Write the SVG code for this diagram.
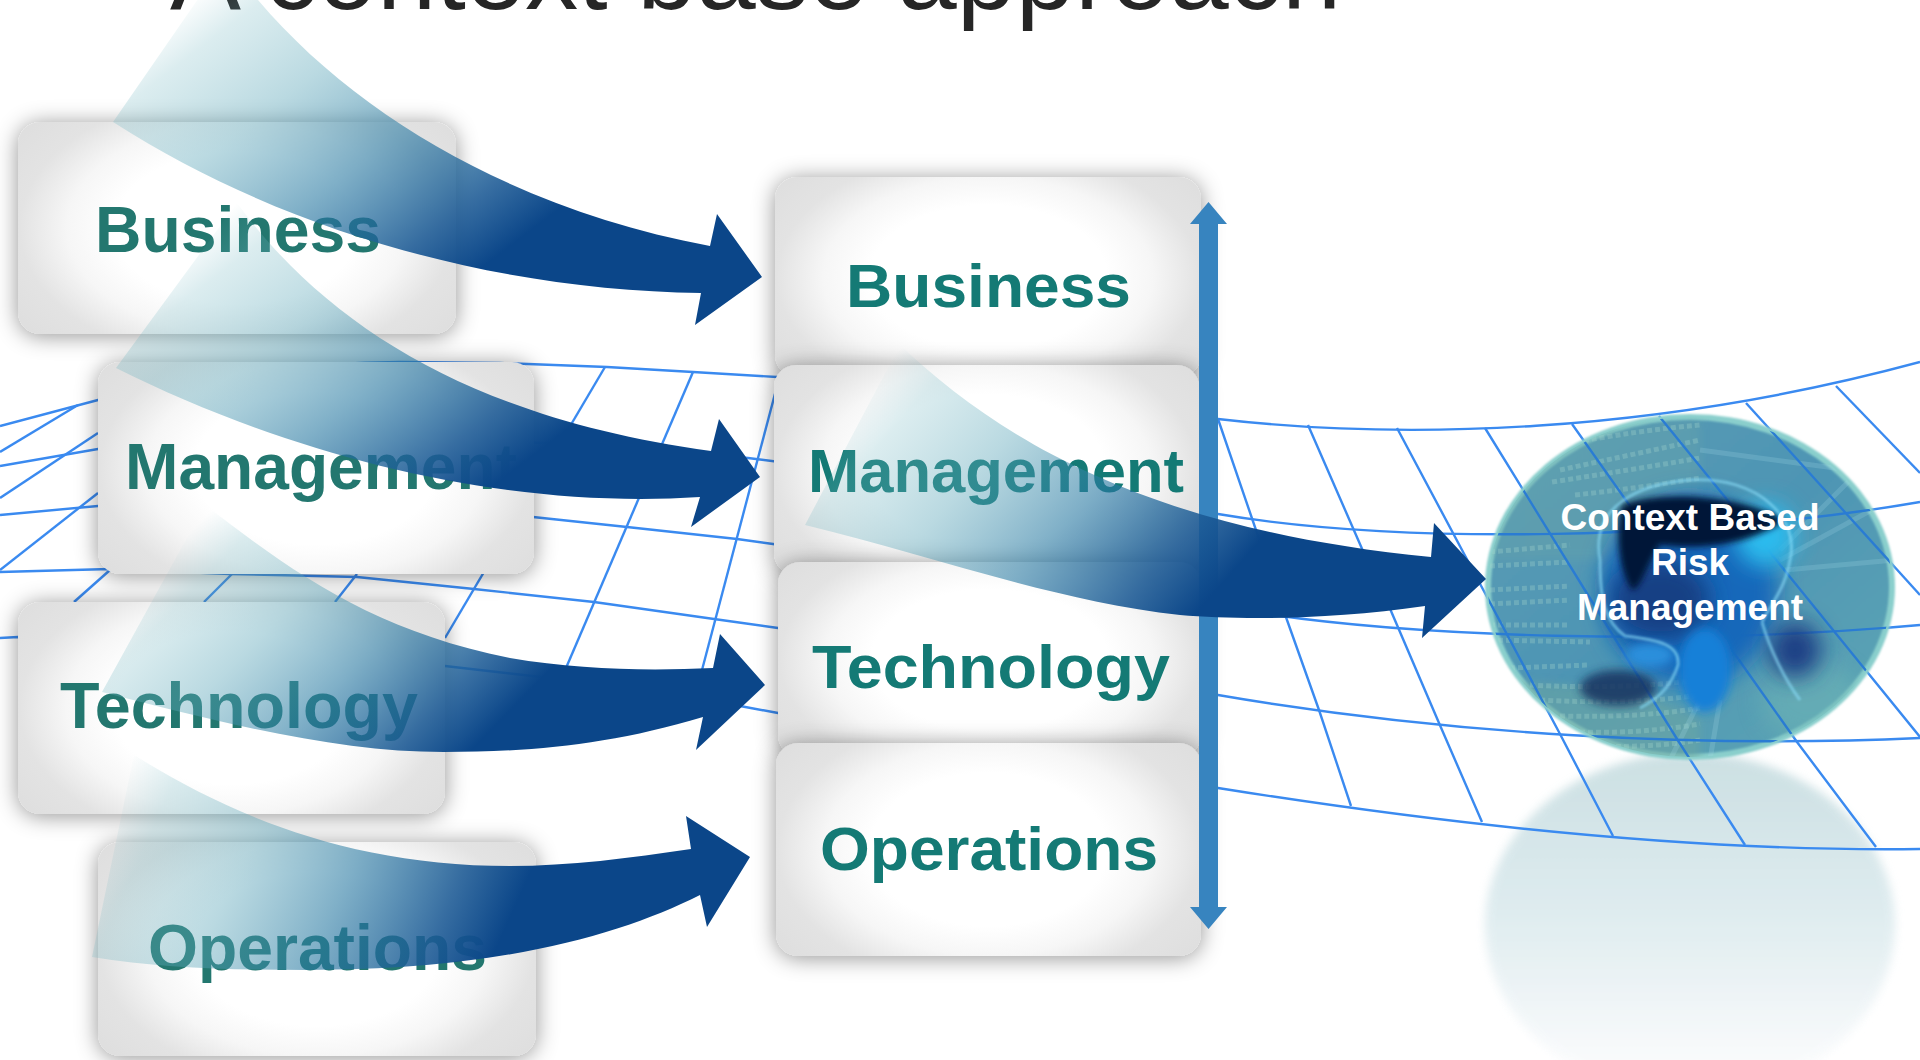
<svg xmlns="http://www.w3.org/2000/svg" xmlns:xlink="http://www.w3.org/1999/xlink" width="1920" height="1060" viewBox="0 0 1920 1060">
<style>
.title{font:106.4px "Liberation Sans",Arial,sans-serif;fill:#262626}
.lbl{font-family:"Liberation Sans",Arial,sans-serif;font-weight:700;font-size:65px;fill:#23776F}
.clbl{font-family:"Liberation Sans",Arial,sans-serif;font-weight:700;font-size:61px;fill:#147A75}
.glbl{font-family:"Liberation Sans",Arial,sans-serif;font-weight:700;font-size:37px;fill:#fff;text-anchor:middle}
.box{fill:url(#boxFill);filter:url(#shadow)}
.gl{fill:none;stroke:#3A8AF0;stroke-width:2.4;stroke-linejoin:round}
.bin{fill:none;stroke:#A6D6CC;stroke-width:5;stroke-dasharray:5 3;opacity:.3}
.ray{fill:none;stroke:#A6DCE8;stroke-width:5;opacity:.22}
</style>
<defs>
<filter id="shadow" x="-15%" y="-20%" width="130%" height="140%"><feDropShadow dx="0" dy="2" stdDeviation="11" flood-color="#000" flood-opacity=".42"/></filter>
<filter id="b1" x="-20%" y="-20%" width="140%" height="140%"><feGaussianBlur stdDeviation="1"/></filter>
<filter id="b2" x="-20%" y="-20%" width="140%" height="140%"><feGaussianBlur stdDeviation="3"/></filter>
<filter id="b3" x="-30%" y="-30%" width="160%" height="160%"><feGaussianBlur stdDeviation="5"/></filter>
<filter id="b8" x="-60%" y="-60%" width="220%" height="220%"><feGaussianBlur stdDeviation="11"/></filter>
<filter id="dim" x="0" y="0" width="100%" height="100%"><feColorMatrix type="matrix" values=".55 0 0 0 0 0 .8 0 0 0 0 0 .75 0 0 0 0 0 1 0"/></filter>
<radialGradient id="boxFill" cx=".5" cy=".5" r="1" gradientTransform="translate(.5 .5) scale(.62 .8) translate(-.5 -.5)"><stop offset=".45" stop-color="#fff"/><stop offset=".625" stop-color="#F6F6F6"/><stop offset=".8" stop-color="#E3E3E3"/><stop offset="1" stop-color="#DEDEDE"/></radialGradient>
<linearGradient id="refl" x1="0" y1="0" x2="0" y2="1"><stop offset="0" stop-color="#BFD8DC"/><stop offset=".45" stop-color="#D6E7EB"/><stop offset=".82" stop-color="#F3F7F9"/><stop offset="1" stop-color="#fff"/></linearGradient>
<linearGradient id="sph" x1="0" y1="0" x2="1" y2="1"><stop offset="0" stop-color="#5A9DB4"/><stop offset=".5" stop-color="#4E95B4"/><stop offset="1" stop-color="#5FA7B4"/></linearGradient>
<linearGradient id="stops"><stop offset="0" stop-color="#6FB5C0" stop-opacity="0"/><stop offset=".12" stop-color="#6FB5C0" stop-opacity=".25"/><stop offset=".35" stop-color="#5AA5B8" stop-opacity=".42"/><stop offset=".6" stop-color="#2B7BA3" stop-opacity=".6"/><stop offset=".85" stop-color="#1C5A95" stop-opacity=".88"/><stop offset="1" stop-color="#0B4689"/></linearGradient>
<linearGradient id="a1" gradientUnits="userSpaceOnUse" x1="225" y1="-30" x2="463" y2="282" xlink:href="#stops"/>
<linearGradient id="a2" gradientUnits="userSpaceOnUse" x1="237" y1="203" x2="468" y2="505" xlink:href="#stops"/>
<linearGradient id="a3" gradientUnits="userSpaceOnUse" x1="214" y1="508" x2="465" y2="756" xlink:href="#stops"/>
<linearGradient id="a4" gradientUnits="userSpaceOnUse" x1="130" y1="760" x2="505" y2="929" xlink:href="#stops"/>
<linearGradient id="a5" gradientUnits="userSpaceOnUse" x1="900" y1="349" x2="1198" y2="611" xlink:href="#stops"/>
<clipPath id="sc"><ellipse cx="1690" cy="587" rx="202" ry="170"/></clipPath>
<g id="grid">
<path class="gl" d="M0,426 L98,400 C200,378 300,362 400,362 L500,363 L607,367 L693,372 L777,377 L1000,395 L1218,419 C1400,440 1650,435 1920,362"/>
<path class="gl" d="M0,466 L98,449 C200,440 300,438 400,438 L600,445 L748,458 L1000,490 L1218,514 C1400,545 1700,540 1920,502"/>
<path class="gl" d="M0,515 L98,506 L300,500 L533,517 L627,527 L737,539 L773,544 L1000,580 L1218,606 C1400,640 1700,645 1920,625"/>
<path class="gl" d="M0,572 L110,569 L230,574 L357,577 L474,589 L594,602 L714,619 L778,628 L1000,665 L1218,695 C1450,735 1700,748 1920,738"/>
<path class="gl" d="M0,638 L18,637 L230,645 L445,666 L541,677 L740,706 L778,713 L1000,755 L1218,788 C1450,825 1700,852 1920,849"/>
<line class="gl" x1="78" y1="405" x2="0" y2="452"/>
<line class="gl" x1="98" y1="433" x2="0" y2="498"/>
<line class="gl" x1="98" y1="493" x2="0" y2="570"/>
<line class="gl" x1="110" y1="570" x2="74" y2="602"/>
<line class="gl" x1="232" y1="574" x2="204" y2="602"/>
<line class="gl" x1="357" y1="574" x2="335" y2="602"/>
<line class="gl" x1="605" y1="367" x2="445" y2="638"/>
<line class="gl" x1="693" y1="372" x2="566" y2="668"/>
<line class="gl" x1="776" y1="390" x2="702" y2="670"/>
<polyline class="gl" points="1218,419 1257,533 1287,620 1319,710 1351,806"/>
<polyline class="gl" points="1308,425 1363,551 1391,611 1439,723 1482,822"/>
<polyline class="gl" points="1397,428 1478,580 1560,734 1613,836"/>
<polyline class="gl" points="1485,428 1583,587 1677,739 1745,845"/>
<polyline class="gl" points="1572,424 1751,677 1797,742 1876,847"/>
<polyline class="gl" points="1659,416 1790,577 1920,737"/>
<polyline class="gl" points="1746,403 1920,595"/>
<polyline class="gl" points="1836,386 1920,473"/>
</g>
</defs>
<rect width="1920" height="1060" fill="#fff"/>
<text class="title" x="170" y="8.5">A context base approach</text>
<g id="globe-reflection">
<ellipse cx="1690" cy="925" rx="205" ry="172" fill="url(#refl)" filter="url(#b3)" opacity=".8"/>
</g>
<use id="wave-grid" xlink:href="#grid"/>
<g id="left-business"><rect class="box" x="18" y="122" width="438" height="212" rx="22"/><text class="lbl" x="95" y="252" textLength="286" lengthAdjust="spacingAndGlyphs">Business</text></g>
<g id="left-management"><rect class="box" x="98" y="362" width="436" height="212" rx="22"/><text class="lbl" x="125" y="488.5" textLength="392" lengthAdjust="spacingAndGlyphs">Management</text></g>
<g id="left-technology"><rect class="box" x="18" y="602" width="427" height="212" rx="22"/><text class="lbl" x="60" y="728" textLength="358" lengthAdjust="spacingAndGlyphs">Technology</text></g>
<g id="left-operations"><rect class="box" x="98" y="842" width="438" height="214" rx="22"/><text class="lbl" x="148" y="969.5" textLength="339" lengthAdjust="spacingAndGlyphs">Operations</text></g>
<g id="center-business"><rect class="box" x="775" y="177" width="426" height="200" rx="22"/><text class="clbl" x="846" y="306.5" textLength="285" lengthAdjust="spacingAndGlyphs">Business</text></g>
<g id="center-management"><rect class="box" x="774" y="365" width="425" height="210" rx="22"/><text class="clbl" x="808" y="492" textLength="376" lengthAdjust="spacingAndGlyphs">Management</text></g>
<g id="center-technology"><rect class="box" x="778" y="562" width="423" height="195" rx="22"/><text class="clbl" x="812" y="688" textLength="358" lengthAdjust="spacingAndGlyphs">Technology</text></g>
<g id="center-operations"><rect class="box" x="776" y="743" width="425" height="213" rx="22"/><text class="clbl" x="820" y="870" textLength="338" lengthAdjust="spacingAndGlyphs">Operations</text></g>
<g id="globe">
<ellipse cx="1690" cy="587" rx="205" ry="173" fill="#8ACFCC" filter="url(#b1)"/>
<ellipse cx="1690" cy="587" rx="199" ry="167" fill="url(#sph)" filter="url(#b1)"/>
<g clip-path="url(#sc)">
<path d="M1490,440 L1700,420 L1700,540 L1600,560 L1490,560Z" fill="#6CA6A8" opacity=".35" filter="url(#b3)"/>
<path d="M1490,680 L1640,690 L1700,720 L1700,770 L1500,770Z" fill="#6FA89F" opacity=".5" filter="url(#b3)"/>
<path class="bin" d="M1560,470 Q1630,455 1700,440"/><path class="bin" d="M1552,482 Q1630,470 1700,458"/><path class="bin" d="M1560,445 Q1640,430 1700,425"/><path class="bin" d="M1575,495 Q1640,488 1700,478"/>
<path class="bin" d="M1490,552 L1570,545"/><path class="bin" d="M1490,566 L1570,562"/><path class="bin" d="M1490,590 L1570,586"/><path class="bin" d="M1490,604 L1570,600"/><path class="bin" d="M1490,625 L1570,625"/><path class="bin" d="M1490,640 L1590,642"/>
<path class="bin" d="M1510,668 L1590,665"/><path class="bin" d="M1530,685 Q1620,690 1700,680"/><path class="bin" d="M1540,700 Q1630,705 1700,695"/><path class="bin" d="M1560,716 Q1640,718 1700,708"/><path class="bin" d="M1580,732 Q1640,734 1700,724"/><path class="bin" d="M1600,746 Q1650,748 1700,740"/>
<path class="ray" d="M1780,560 L1890,500"/><path class="ray" d="M1780,550 L1860,470"/><path class="ray" d="M1785,570 L1895,560"/><path class="ray" d="M1700,450 L1850,470"/><path class="ray" d="M1720,700 L1710,760"/><path class="ray" d="M1700,700 L1670,760"/>
<ellipse cx="1810" cy="700" rx="50" ry="40" fill="#6FB6B6" opacity=".5" filter="url(#b8)"/>
<use xlink:href="#grid" filter="url(#dim)"/>
</g>
<ellipse cx="1690" cy="590" rx="88" ry="95" fill="#1468BA" filter="url(#b8)"/>
<ellipse cx="1765" cy="535" rx="30" ry="32" fill="#2BBBEE" filter="url(#b8)"/>
<ellipse cx="1660" cy="600" rx="50" ry="40" fill="#123F84" filter="url(#b8)"/>
<path d="M1622,505 C1660,490 1740,495 1785,520 C1750,545 1700,550 1660,545 C1645,570 1640,590 1632,590 C1618,570 1615,530 1622,505Z" fill="#061538" filter="url(#b2)"/>
<ellipse cx="1618" cy="688" rx="38" ry="18" fill="#12325F" filter="url(#b3)" opacity=".85"/>
<ellipse cx="1795" cy="650" rx="26" ry="28" fill="#1F3F85" filter="url(#b8)"/>
<ellipse cx="1705" cy="670" rx="26" ry="42" fill="#1580D8" filter="url(#b3)"/>
<ellipse cx="1650" cy="655" rx="24" ry="12" fill="#2A8FDC" filter="url(#b3)"/>
<path d="M1600,560 C1590,505 1640,484 1690,480 C1760,476 1800,520 1790,560 C1785,590 1770,605 1762,622 M1600,560 C1600,600 1605,622 1625,636 C1660,640 1680,645 1678,665 C1670,690 1655,700 1640,708 M1762,622 C1770,650 1785,680 1800,700" fill="none" stroke="#8ADDF8" stroke-width="3" filter="url(#b1)" opacity=".6"/>
<text class="glbl" x="1690" y="530">Context Based</text>
<text class="glbl" x="1690" y="575">Risk</text>
<text class="glbl" x="1690" y="620">Management</text>
</g>
<g id="connectors">
<path id="range-arrow" d="M1208.500,202 L1227,224 L1218,224 L1218,907 L1227,907 L1208.500,929 L1190,907 L1199,907 L1199,224 L1190,224Z" fill="#3784BF"/>
<path d="M225,-40 L258,0 C360,120 520,210 710,246 L717,214 L762,277 L695,325 L701,293 C500,290 290,235 113,122Z" fill="url(#a1)"/>
<path d="M237,203 C330,330 480,420 711,451 L719,419 L760,477 L691,527 L700,497 C500,510 290,455 116,368Z" fill="url(#a2)"/>
<path d="M205,505 C290,570 370,630 510,658 C580,670 650,671 713,668 L720,634 L765,685 L696,750 L703,717 C610,745 530,752 444,752 C340,752 230,725 102,692Z" fill="url(#a3)"/>
<path d="M134,755 C230,815 350,866 510,866 C570,866 630,858 691,849 L686,816 L750,857 L707,927 L700,895 C620,935 500,970 306,970 C230,970 160,968 92,957Z" fill="url(#a4)"/>
<path d="M900,345 C1000,440 1150,530 1431,557 L1434,523 L1486,579 L1422,638 L1425,606 C1330,620 1240,620 1180,615 C1050,600 930,555 805,525Z" fill="url(#a5)"/>
</g>
</svg>
